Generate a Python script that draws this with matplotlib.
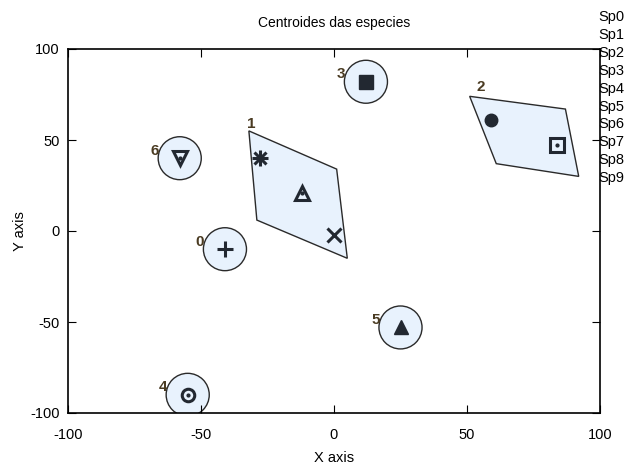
import matplotlib
matplotlib.use("Agg")
import matplotlib.pyplot as plt
from matplotlib.patches import Polygon, Ellipse

plt.rcParams['font.family'] = ['Liberation Sans', 'DejaVu Sans']
plt.rcParams['axes.unicode_minus'] = False

# species centroids
species = ['Sp0', 'Sp1', 'Sp2', 'Sp3', 'Sp4', 'Sp5', 'Sp6', 'Sp7', 'Sp8', 'Sp9']
sp_x = [-41, -28, 59, 12, -55, 25, -58, 84, -12, 0]
sp_y = [-10, 40, 61, 82, -90, -53, 40, 47, 21, -2]

# clusters with a single species (drawn as circles)
single_ids = ['0', '3', '4', '5', '6']
single_x = [-41, 12, -55, 25, -58]
single_y = [-10, 82, -90, -53, 40]

# clusters with several species (drawn as hulls)
hull1_x = [-32, 1, 5, -29]
hull1_y = [55, 34, -15, 6]
hull2_x = [51, 87, 92, 61]
hull2_y = [74, 67, 30, 37]

fill = '#e8f2fd'
edge = '#2a2a2a'
mk = '#222831'
lab = '#4a3b22'

fig = plt.figure(figsize=(6.26, 4.66), dpi=100)
ax = fig.add_axes([68/626, 53/466, 532/626, 364/466])
ax.set_xlim(-100, 100)
ax.set_ylim(-100, 100)

# hulls
for hx, hy, name, off in [(hull1_x, hull1_y, '1', (1.5, 5)),
                          (hull2_x, hull2_y, '2', (8, 6.5))]:
    ax.add_patch(Polygon(list(zip(hx, hy)), closed=True, facecolor=fill,
                         edgecolor=edge, lw=1.0, zorder=1))
    ax.annotate(name, (hx[0], hy[0]), xytext=off, textcoords='offset points',
                fontsize=11, fontweight='bold', color=lab, ha='center', va='center')

# circles around single clusters
for cx, cy, name in zip(single_x, single_y, single_ids):
    ax.add_patch(Ellipse((cx, cy), 16.2, 23.6, facecolor=fill, edgecolor=edge,
                         lw=1.0, zorder=1))
    ax.annotate(name, (cx, cy), xytext=(-18, 5.5), textcoords='offset points',
                fontsize=11, fontweight='bold', color=lab, ha='center', va='center')

# species markers
kw = dict(color=mk, zorder=3, linestyle='none')
ax.plot(sp_x[0], sp_y[0], marker='+', ms=11, mew=2.2, **kw)
ax.plot(sp_x[1], sp_y[1], marker='+', ms=11, mew=2.2, **kw)
ax.plot(sp_x[1], sp_y[1], marker='x', ms=8, mew=2.2, **kw)
ax.plot(sp_x[2], sp_y[2], marker='o', ms=9, **kw)
ax.plot(sp_x[3], sp_y[3], marker='s', ms=10, **kw)
ax.plot(sp_x[4], sp_y[4], marker='o', ms=9, mfc='none', mew=2.2, **kw)
ax.plot(sp_x[5], sp_y[5], marker='^', ms=10, **kw)
ax.plot(sp_x[6], sp_y[6], marker='v', ms=10, mfc='none', mew=2.2, **kw)
ax.plot(sp_x[7], sp_y[7], marker='s', ms=10, mfc='none', mew=2.2, **kw)
ax.plot(sp_x[8], sp_y[8], marker='^', ms=10, mfc='none', mew=2.2, **kw)
ax.plot(sp_x[9], sp_y[9], marker='x', ms=10, mew=2.2, **kw)
for i in [4, 6, 7, 8]:
    ax.plot(sp_x[i], sp_y[i], marker='o', ms=2, **kw)

ax.set_xticks([-100, -50, 0, 50, 100])
ax.set_yticks([-100, -50, 0, 50, 100])
ax.tick_params(direction='in', length=6, top=True, right=True, labelsize=10.5,
               colors='black', width=0.8, pad=6)
ax.tick_params(axis='x', pad=11)
for s in ax.spines.values():
    s.set_linewidth(1.2)

ax.set_title('Centroides das especies', fontsize=10, pad=16)
ax.set_xlabel('X axis', fontsize=10.5, labelpad=6)
ax.set_ylabel('Y axis', fontsize=10.5, labelpad=2)

# legend text on the right
for i, name in enumerate(species):
    fig.text(611/626, 1 - (17 + i*17.9)/466, name, fontsize=10.5,
             ha='center', va='center')

fig.savefig('out.png', dpi=100)
